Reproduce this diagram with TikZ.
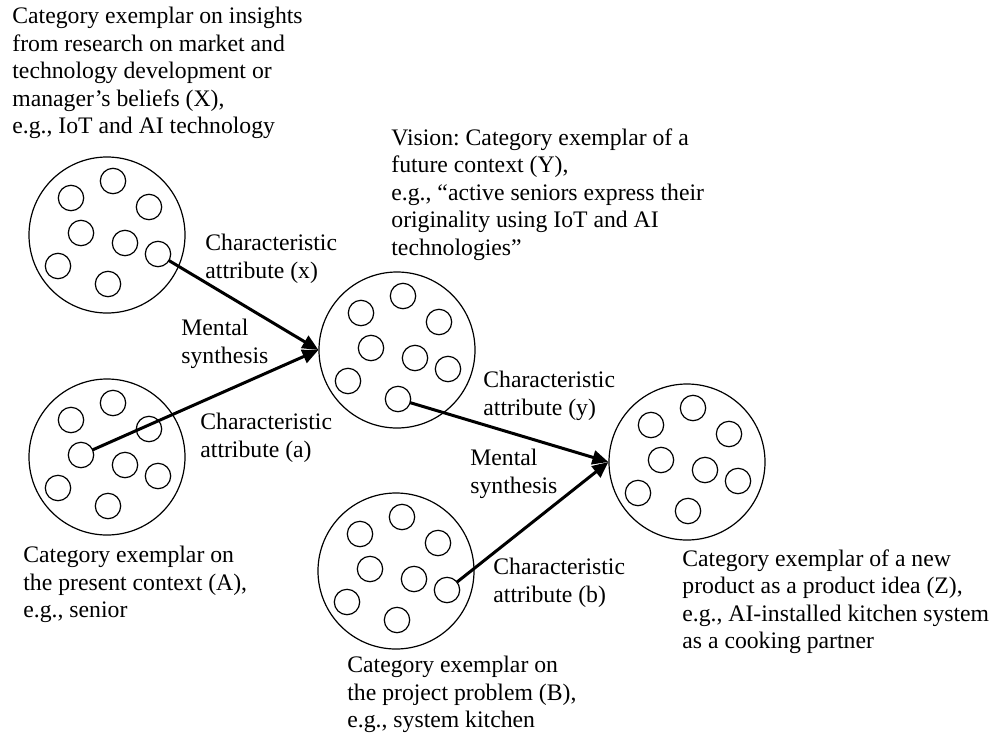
\documentclass[tikz,border=0pt]{standalone}
\usepackage{fontspec}
\setmainfont{Liberation Serif}
\usetikzlibrary{arrows.meta, positioning}

\begin{document}
\begin{tikzpicture}[x=0.5pt, y=-0.5pt,
    category/.style={draw, circle, line width=0.6pt, minimum size=78pt, inner sep=0pt},
    item/.style={draw, circle, line width=0.6pt, minimum size=12.7pt, inner sep=0pt},
    link/.style={line width=1.5pt, -{Triangle[length=8pt, width=7pt]}, shorten <=-0.3pt},
    label/.style={anchor=north west, inner sep=0pt, align=left,
        font=\fontsize{11.85}{13.75}\selectfont\frenchspacing}]
\useasboundingbox (0,0) rectangle (995,734);
% category exemplars, each with its attributes
\foreach \c/\cx/\cy in {X/107/235, A/107/457, Y/397/350, B/396/571, Z/687/462}
{
    \node[category] (\c) at (\cx,\cy) {};
    \foreach \i/\dx/\dy in {1/6/-54, 2/-36/-37, 3/42/-28, 4/-26/-2,
                            5/18/8, 6/51/19, 7/-49/31, 8/1/49}
    {
        \node[item] (\c-\i) at ([shift={(\dx,\dy)}]\c.center) {};
    }
}
% mental synthesis
\draw[link] (X-6) -- (Y.west);
\draw[link] (A-4) -- (Y.west);
\draw[link] (Y-8) -- (Z.west);
\draw[link] (B-6) -- (Z.west);
% texts
\node[label] (xtext) at (12,7) {Category exemplar on insights\\from research on market and\\technology development or\\manager’s beliefs (X),\\e.g., IoT and AI technology};
\node[label] (ytext) at (391,128) {Vision: Category exemplar of a\\future context (Y),\\e.g., “active seniors express their\\originality using IoT and AI\\technologies”};
\node[label] (atext) at (23,546) {Category exemplar on\\the present context (A),\\e.g., senior};
\node[label] (btext) at (347,656) {Category exemplar on\\the project problem (B),\\e.g., system kitchen};
\node[label] (ztext) at (682,549) {Category exemplar of a new\\product as a product idea (Z),\\e.g., AI-installed kitchen system\\as a cooking partner};
\node[label] (xattr) at (205,234) {Characteristic\\attribute (x)};
\node[label] (aattr) at (200,413) {Characteristic\\attribute (a)};
\node[label] (yattr) at (483,371) {Characteristic\\attribute (y)};
\node[label] (battr) at (493,558) {Characteristic\\attribute (b)};
\node[label] (synth1) at (181,319) {Mental\\synthesis};
\node[label] (synth2) at (470,449) {Mental\\synthesis};
\end{tikzpicture}
\end{document}
